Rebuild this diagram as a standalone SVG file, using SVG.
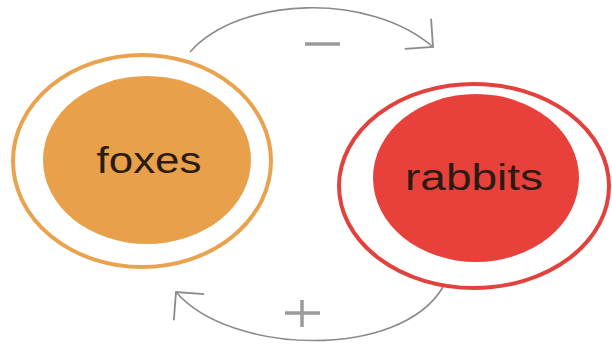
<svg xmlns="http://www.w3.org/2000/svg" width="612" height="348" viewBox="0 0 612 348">
<style>
.ring{fill:none;stroke-width:4}
.lbl{font-family:"Liberation Sans",Arial,sans-serif;font-size:36px;fill:#2a1c14;text-anchor:middle}
.conn{fill:none;stroke:#8a8a8a;stroke-width:1.6}
.sign{fill:none;stroke:#9a9a9a;stroke-width:3.5}
</style>
<defs>
<marker id="arr" markerUnits="userSpaceOnUse" markerWidth="60" markerHeight="60" refX="0" refY="0" orient="auto" overflow="visible">
<path d="M-20,-20 L0,0 L-20,20" fill="none" stroke="#8a8a8a" stroke-width="1.8"/>
</marker>
</defs>
<rect width="612" height="348" fill="#ffffff"/>
<g id="connectors">
<path class="conn" d="M190,52 C240,-4 370,-8 433,47" marker-end="url(#arr)"/>
<path class="conn" d="M443,287 C400,360 230,355 176,292" marker-end="url(#arr)"/>
<path class="sign" d="M305,44 H340"/>
<path class="sign" d="M285,313 H320 M302,300 V327"/>
</g>
<g id="foxes">
<ellipse class="ring" cx="142" cy="161" rx="129" ry="106" stroke="#E9A24D"/>
<ellipse cx="147" cy="160" rx="104" ry="84" fill="#E9A04A"/>
<text class="lbl" x="149" y="173" textLength="105" lengthAdjust="spacingAndGlyphs">foxes</text>
</g>
<g id="rabbits">
<ellipse class="ring" cx="474" cy="186" rx="135" ry="102" stroke="#E2423D"/>
<ellipse cx="476" cy="178" rx="103" ry="84" fill="#E8403B"/>
<text class="lbl" x="474" y="190" textLength="138" lengthAdjust="spacingAndGlyphs">rabbits</text>
</g>
</svg>
